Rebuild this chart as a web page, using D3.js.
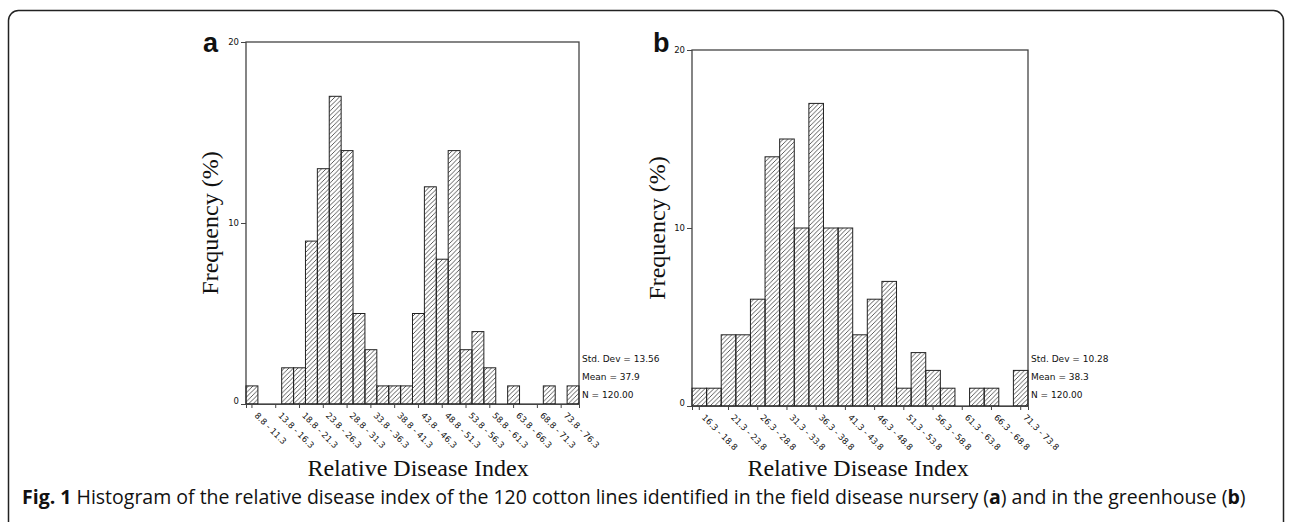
<!DOCTYPE html>
<html lang="en">
<head>
<meta charset="UTF-8">
<title>Relative Disease Index histograms</title>
<script src="https://d3js.org/d3.v7.min.js"></script>
<style>
  body { margin: 0; background: #fff; }
  svg text { fill: #111; }
  .tick text { font-family: "DejaVu Sans", sans-serif; font-size: 8.5px; }
  .axis-title { font-family: "Liberation Serif", "Times New Roman", serif; font-size: 24px; }
  .stats { font-family: "DejaVu Sans", sans-serif; font-size: 9px; }
  .panel-label { font-family: "Liberation Sans", Arial, sans-serif; font-size: 27px; font-weight: bold; }
  .caption { font-family: "Open Sans", sans-serif; font-size: 19.5px; }
</style>
</head>
<body>
<div id="chart"></div>
<script>
// panel a: field disease nursery, 28 bins of width 2.5
const countsA = [1, 0, 0, 2, 2, 9, 13, 17, 14, 5, 3, 1, 1, 1, 5, 12, 8, 14, 3, 4, 2, 0, 1, 0, 0, 1, 0, 1];
const tickLabelsA = ["8.8 - 11.3", "13.8 - 16.3", "18.8 - 21.3", "23.8 - 26.3", "28.8 - 31.3",
  "33.8 - 36.3", "38.8 - 41.3", "43.8 - 46.3", "48.8 - 51.3", "53.8 - 56.3", "58.8 - 61.3",
  "63.8 - 66.3", "68.8 - 71.3", "73.8 - 76.3"];
const statsA = ["Std. Dev = 13.56", "Mean = 37.9", "N = 120.00"];

// panel b: greenhouse, 23 bins of width 2.5
const countsB = [1, 1, 4, 4, 6, 14, 15, 10, 17, 10, 10, 4, 6, 7, 1, 3, 2, 1, 0, 1, 1, 0, 2];
const tickLabelsB = ["16.3 - 18.8", "21.3 - 23.8", "26.3 - 28.8", "31.3 - 33.8", "36.3 - 38.8",
  "41.3 - 43.8", "46.3 - 48.8", "51.3 - 53.8", "56.3 - 58.8", "61.3 - 63.8", "66.3 - 68.8",
  "71.3 - 73.8"];
const statsB = ["Std. Dev = 10.28", "Mean = 38.3", "N = 120.00"];

const yTicks = [0, 10, 20];

const W = 1292, H = 522;
const svg = d3.select("#chart").append("svg")
    .attr("width", W)
    .attr("height", H);

// hatch fill
svg.append("defs").append("pattern")
    .attr("id", "hatch")
    .attr("patternUnits", "userSpaceOnUse")
    .attr("width", 4.5)
    .attr("height", 4.5)
  .append("path")
    .attr("d", "M-1,1 l2,-2 M0,4.5 l4.5,-4.5 M3.5,5.5 l2,-2")
    .attr("stroke", "#333")
    .attr("stroke-width", 0.8);

// outer rounded frame
svg.append("rect")
    .attr("x", 8.5).attr("y", 10.5)
    .attr("width", 1275).attr("height", 540)
    .attr("rx", 10)
    .attr("fill", "none")
    .attr("stroke", "#222")
    .attr("stroke-width", 1.5);

function drawPanel(opt) {
    const g = svg.append("g");
    const {x0, x1, y0, y1} = opt;

    const x = d3.scaleBand()
        .domain(d3.range(opt.counts.length))
        .range([x0, x1])
        .padding(0);

    const y = d3.scaleLinear()
        .domain([0, 20])
        .range([y1, y0]);

    // plot frame
    g.append("rect")
        .attr("x", x0).attr("y", y0)
        .attr("width", x1 - x0).attr("height", y1 - y0)
        .attr("fill", "none")
        .attr("stroke", "#444")
        .attr("stroke-width", 1.3);

    // bars
    g.selectAll(".bar")
        .data(opt.counts.map((v, i) => ({i, v})).filter(d => d.v > 0))
        .join("rect")
        .attr("class", "bar")
        .attr("x", d => x(d.i))
        .attr("y", d => y(d.v))
        .attr("width", x.bandwidth())
        .attr("height", d => y(0) - y(d.v))
        .attr("fill", "url(#hatch)")
        .attr("stroke", "#222")
        .attr("stroke-width", 1);

    // y axis
    const yAxis = g.append("g")
        .attr("transform", `translate(${x0},0)`)
        .call(d3.axisLeft(y).tickValues(yTicks).tickSize(5).tickPadding(2));
    yAxis.select(".domain").remove();
    yAxis.selectAll("line").attr("stroke", "#444");
    yAxis.selectAll("text").filter(d => d === 0).attr("dy", "-0.1em");

    // x axis, labels on every second bin
    const xAxis = g.append("g")
        .attr("transform", `translate(0,${y1})`)
        .call(d3.axisBottom(x)
            .tickValues(d3.range(0, opt.counts.length, 2))
            .tickFormat(i => opt.tickLabels[i / 2])
            .tickSize(4));
    xAxis.select(".domain").attr("stroke", "#444");
    xAxis.selectAll("line").attr("stroke", "#444");
    xAxis.selectAll("text")
        .attr("text-anchor", "start")
        .attr("dy", null)
        .attr("y", 0)
        .attr("transform", "translate(2,12) rotate(45)");

    // stats
    g.selectAll(".stats")
        .data(opt.stats)
        .join("text")
        .attr("class", "stats")
        .attr("x", x1 + 3)
        .attr("y", (d, i) => opt.statsY + i * 18)
        .text(d => d);

    // axis titles
    g.append("text")
        .attr("class", "axis-title")
        .attr("text-anchor", "middle")
        .attr("transform", `translate(${opt.yTitleX},${(y0 + y1) / 2}) rotate(-90)`)
        .text("Frequency (%)");

    g.append("text")
        .attr("class", "axis-title")
        .attr("text-anchor", "middle")
        .attr("x", opt.xTitleX)
        .attr("y", 476)
        .text("Relative Disease Index");

    g.append("text")
        .attr("class", "panel-label")
        .attr("x", opt.labelX)
        .attr("y", 52)
        .text(opt.label);
}

drawPanel({counts: countsA, tickLabels: tickLabelsA, stats: statsA,
    x0: 246, x1: 579, y0: 42, y1: 404, statsY: 362,
    yTitleX: 218, xTitleX: 418, labelX: 203, label: "a"});

drawPanel({counts: countsB, tickLabels: tickLabelsB, stats: statsB,
    x0: 692, x1: 1028, y0: 50, y1: 406, statsY: 362,
    yTitleX: 665, xTitleX: 858, labelX: 653, label: "b"});

// caption
const cap = svg.append("text")
    .attr("class", "caption")
    .attr("x", 22)
    .attr("y", 504);
cap.append("tspan").attr("font-weight", "bold").text("Fig. 1");
cap.append("tspan").text(" Histogram of the relative disease index of the 120 cotton lines identified in the field disease nursery (");
cap.append("tspan").attr("font-weight", "bold").text("a");
cap.append("tspan").text(") and in the greenhouse (");
cap.append("tspan").attr("font-weight", "bold").text("b");
cap.append("tspan").text(")");
</script>
</body>
</html>
